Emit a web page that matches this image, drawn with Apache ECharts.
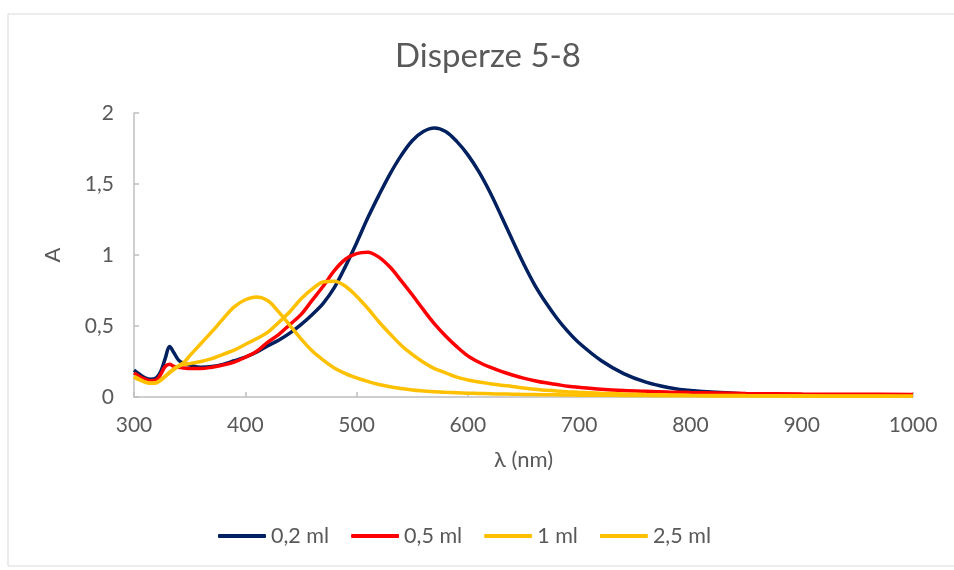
<!DOCTYPE html>
<html>
<head>
<meta charset="utf-8">
<script src="https://cdn.jsdelivr.net/npm/echarts@6/dist/echarts.min.js"></script>
<style>
  html, body { margin: 0; padding: 0; background: #fff; }
  #main { width: 954px; height: 570px; }
</style>
</head>
<body>
<div id="main"></div>
<script>
// vlnové délky (nm)
var wavelengths = [300, 305, 310, 315, 320, 324, 328, 332, 336, 340, 345, 350, 360, 370, 380, 390,
    400, 410, 420, 430, 440, 450, 460, 470, 480, 490, 500, 510, 520, 530, 540, 550, 560, 570,
    580, 590, 600, 610, 620, 630, 640, 650, 660, 670, 680, 690, 700, 720, 740, 760, 780, 800,
    850, 900, 950, 1000];

// absorbance jednotlivých disperzí
var a02 = [0.19, 0.16, 0.135, 0.125, 0.135, 0.18, 0.27, 0.355, 0.31, 0.26, 0.235, 0.225, 0.21, 0.215, 0.23, 0.255,
    0.28, 0.315, 0.36, 0.40, 0.45, 0.51, 0.58, 0.66, 0.77, 0.92, 1.085, 1.26, 1.42, 1.57, 1.70, 1.805, 1.87, 1.895,
    1.87, 1.80, 1.705, 1.585, 1.44, 1.275, 1.105, 0.94, 0.79, 0.665, 0.555, 0.46, 0.38, 0.255, 0.165, 0.105, 0.067, 0.045,
    0.022, 0.012, 0.008, 0.006];
var a05 = [0.17, 0.145, 0.125, 0.115, 0.12, 0.16, 0.215, 0.23, 0.215, 0.21, 0.205, 0.2, 0.2, 0.21, 0.225, 0.245,
    0.28, 0.32, 0.385, 0.44, 0.51, 0.58, 0.68, 0.78, 0.89, 0.97, 1.01, 1.02, 0.985, 0.915, 0.82, 0.72, 0.615, 0.515,
    0.43, 0.355, 0.29, 0.245, 0.21, 0.18, 0.155, 0.133, 0.115, 0.1, 0.088, 0.076, 0.068, 0.055, 0.046, 0.04, 0.035, 0.031,
    0.025, 0.021, 0.019, 0.018];
var a1 = [0.145, 0.125, 0.105, 0.097, 0.1, 0.12, 0.145, 0.17, 0.195, 0.215, 0.23, 0.235, 0.25, 0.27, 0.3, 0.33,
    0.37, 0.41, 0.455, 0.525, 0.60, 0.69, 0.76, 0.81, 0.815, 0.78, 0.71, 0.625, 0.53, 0.445, 0.365, 0.30, 0.245, 0.20,
    0.17, 0.14, 0.12, 0.105, 0.094, 0.083, 0.074, 0.063, 0.054, 0.048, 0.042, 0.037, 0.033, 0.027, 0.022, 0.018, 0.015, 0.013,
    0.01, 0.008, 0.007, 0.006];
var a25 = [0.14, 0.12, 0.105, 0.097, 0.1, 0.12, 0.145, 0.175, 0.2, 0.22, 0.245, 0.29, 0.375, 0.46, 0.55, 0.635,
    0.685, 0.705, 0.68, 0.60, 0.505, 0.41, 0.325, 0.26, 0.205, 0.165, 0.135, 0.11, 0.088, 0.072, 0.06, 0.05, 0.043, 0.037,
    0.033, 0.03, 0.027, 0.025, 0.023, 0.021, 0.02, 0.018, 0.017, 0.016, 0.015, 0.014, 0.013, 0.012, 0.011, 0.01, 0.009, 0.008,
    0.007, 0.006, 0.005, 0.005];

var seriesNames = ['0,2 ml', '0,5 ml', '1 ml', '2,5 ml'];
var seriesColors = ['#002060', '#FF0000', '#FFC000', '#FFC000'];
var seriesValues = [a02, a05, a1, a25];

var xTicks = [300, 1000, 100];   // min, max, interval
var yTicks = [0, 2, 0.5];

function pairs(vals) {
    return wavelengths.map(function (w, i) { return [w, vals[i]]; });
}

var font = 'Lato, "Open Sans", sans-serif';
var grey = '#595959';

var myChart = echarts.init(document.getElementById('main'));

var option = {
    animation: false,
    backgroundColor: '#fff',
    graphic: [{
        type: 'rect',
        shape: { x: 8, y: 14, width: 960, height: 552 },
        style: { fill: 'none', stroke: '#d9d9d9', lineWidth: 1 }
    }],
    title: {
        text: 'Disperze 5-8',
        left: 390,
        top: 35,
        textStyle: { fontFamily: font, fontSize: 33, fontWeight: 'normal', color: grey }
    },
    legend: {
        bottom: 18,
        left: 213,
        icon: 'roundRect',
        itemWidth: 48,
        itemHeight: 4,
        itemGap: 22,
        textStyle: { fontFamily: font, fontSize: 21.5, color: grey },
        data: seriesNames
    },
    grid: { left: 134, right: 41, top: 113, bottom: 173, containLabel: false },
    xAxis: {
        type: 'value',
        min: xTicks[0], max: xTicks[1], interval: xTicks[2],
        name: 'λ (nm)',
        nameLocation: 'middle',
        nameGap: 52,
        nameTextStyle: { fontFamily: font, fontSize: 22, color: grey },
        axisLine: { lineStyle: { color: '#bfbfbf', width: 1.5 } },
        axisTick: { inside: true, length: 5, lineStyle: { color: '#bfbfbf', width: 1.5 } },
        axisLabel: {
            fontFamily: font, fontSize: 21, color: grey, margin: 18,
            formatter: function (v) { return String(v); }
        },
        splitLine: { show: false }
    },
    yAxis: {
        type: 'value',
        min: yTicks[0], max: yTicks[1], interval: yTicks[2],
        name: 'A',
        nameLocation: 'middle',
        nameGap: 70,
        nameRotate: 90,
        nameTextStyle: { fontFamily: font, fontSize: 22, color: grey },
        axisLine: { show: true, lineStyle: { color: '#bfbfbf', width: 1.5 } },
        axisTick: { show: true, inside: true, length: 5, lineStyle: { color: '#bfbfbf', width: 1.5 } },
        axisLabel: {
            fontFamily: font, fontSize: 21, color: grey, margin: 20,
            formatter: function (v) { return String(v).replace('.', ','); }
        },
        splitLine: { show: false }
    },
    series: seriesNames.map(function (n, i) {
        return {
            name: n,
            type: 'line',
            data: pairs(seriesValues[i]),
            smooth: 0.35,
            showSymbol: false,
            color: seriesColors[i],
            lineStyle: { width: 3.5, color: seriesColors[i] }
        };
    })
};

myChart.setOption(option);
</script>
</body>
</html>
